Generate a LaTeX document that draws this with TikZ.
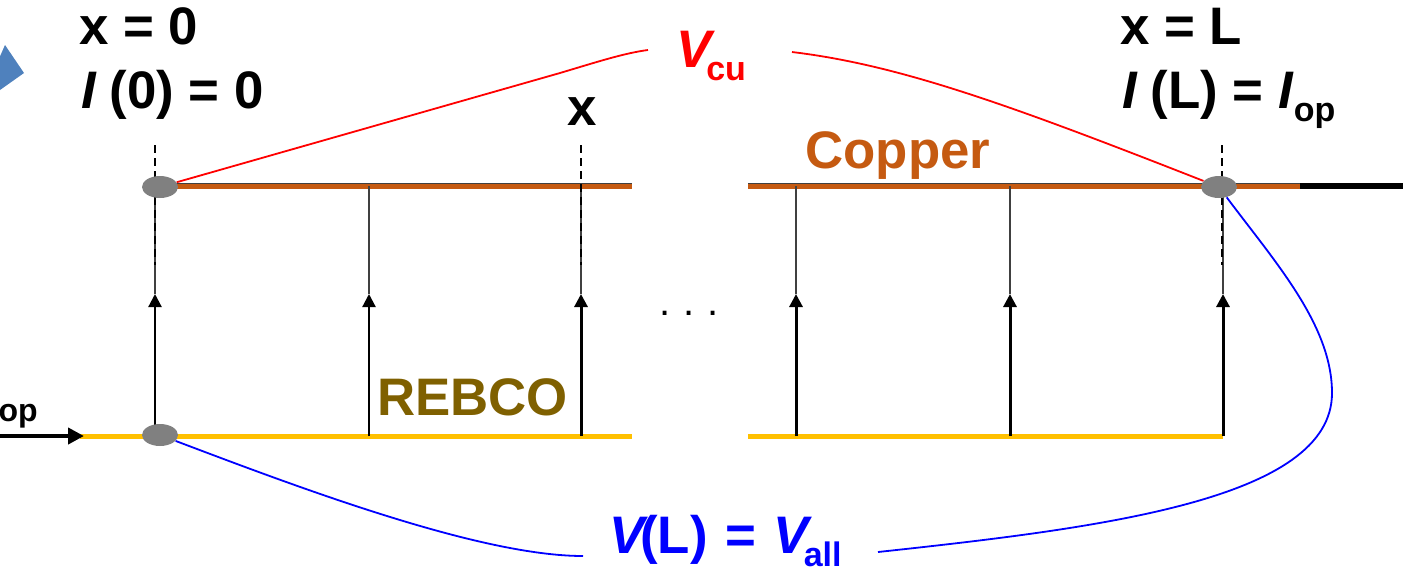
\documentclass[tikz,border=0pt]{standalone}
\usepackage{fontspec}
\setmainfont{Liberation Sans}
\usepackage{xcolor}
\definecolor{vizCopper}{HTML}{C55A11}
\definecolor{vizRebco}{HTML}{FFC000}
\definecolor{vizRebcoText}{HTML}{7F6000}
\definecolor{vizJoint}{HTML}{808080}
\definecolor{vizPointer}{HTML}{4F81BD}
\definecolor{vizEdge}{HTML}{404040}
\usetikzlibrary{shapes.geometric,arrows.meta}
\newcommand{\lowsub}[1]{\raisebox{-0.26em}{\fontsize{17}{17}\selectfont #1}}
\tikzset{
  label/.style={font=\fontsize{26.4}{26.4}\selectfont\bfseries, inner sep=0pt, anchor=base west},
  joint/.style={ellipse, fill=vizJoint, draw=none, minimum width=18pt, minimum height=11pt, inner sep=0pt},
  copperwire/.style={vizCopper, line width=2.5pt},
  rebcowire/.style={vizRebco, line width=2.5pt},
  feedup/.style={black, line width=1.1pt, -{Triangle[width=6.5pt,length=6.5pt]}},
  feedupheavy/.style={feedup, line width=1.5pt},
  feedtop/.style={vizEdge, line width=0.55pt},
  probe/.style={black, line width=0.7pt, dash pattern=on 4pt off 2.5pt},
  vcurve/.style={red, line width=0.9pt},
  vallcurve/.style={blue, line width=0.9pt}
}
\begin{document}
\begin{tikzpicture}[x=0.5pt, y=-0.5pt]
  \useasboundingbox (0,0) rectangle (1403,585);
  \fill[vizPointer] (5,45) -- (24,73) -- (0,90) -- (-6,70) -- cycle;
  \coordinate (cuA) at (159,186);
  \coordinate (cuB) at (632,186);
  \coordinate (cuC) at (748,186);
  \coordinate (cuD) at (1300,186);
  \coordinate (cuE) at (1403,186);
  \coordinate (reA) at (80,436);
  \coordinate (reB) at (632,436);
  \coordinate (reC) at (748,436);
  \coordinate (reD) at (1223,436);
  \coordinate (inA) at (0,436);
  \coordinate (inB) at (84,436);
  \coordinate (probeAt) at (155,145);
  \coordinate (probeAb) at (155,265);
  \coordinate (probeBt) at (581,145);
  \coordinate (probeBb) at (581,265);
  \coordinate (probeCt) at (1222,145);
  \coordinate (probeCb) at (1222,265);
  \draw[vizEdge, line width=0.6pt] (159,183.5) -- (632,183.5);
  \draw[vizEdge, line width=0.6pt] (748,183.5) -- (1300,183.5);
  \draw[copperwire] (cuA) -- (cuB);
  \draw[copperwire] (cuC) -- (cuD);
  \draw[black, line width=3pt] (cuD) -- (cuE);
  \draw[rebcowire] (reA) -- (reB);
  \draw[rebcowire] (reC) -- (reD);
  \draw[black, line width=2.4pt, -{Triangle[width=8pt,length=8pt]}] (inA) -- (inB);
  \coordinate (feedAb) at (155,436);
  \coordinate (feedAm) at (155,294);
  \coordinate (feedAt) at (155,186);
  \coordinate (feedBb) at (369,436);
  \coordinate (feedBm) at (369,294);
  \coordinate (feedBt) at (369,186);
  \coordinate (feedCb) at (581,436);
  \coordinate (feedCm) at (581,294);
  \coordinate (feedCt) at (581,186);
  \coordinate (feedDb) at (796,436);
  \coordinate (feedDm) at (796,294);
  \coordinate (feedDt) at (796,186);
  \coordinate (feedEb) at (1010,436);
  \coordinate (feedEm) at (1010,294);
  \coordinate (feedEt) at (1010,186);
  \coordinate (feedFb) at (1223,436);
  \coordinate (feedFm) at (1223,294);
  \coordinate (feedFt) at (1223,186);
  \draw[feedup] (feedAb) -- (feedAm);
  \draw[feedup] (feedBb) -- (feedBm);
  \draw[feedupheavy] (feedCb) -- (feedCm);
  \draw[feedupheavy] (feedDb) -- (feedDm);
  \draw[feedupheavy] (feedEb) -- (feedEm);
  \draw[feedupheavy] (feedFb) -- (feedFm);
  \draw[feedtop] (feedAm) -- (feedAt);
  \draw[feedtop] (feedBm) -- (feedBt);
  \draw[feedtop] (feedCm) -- (feedCt);
  \draw[feedtop] (feedDm) -- (feedDt);
  \draw[feedtop] (feedEm) -- (feedEt);
  \draw[feedtop] (feedFm) -- (feedFt);
  \draw[probe] (probeAt) -- (probeAb);
  \draw[probe] (probeBt) -- (probeBb);
  \draw[probe] (probeCt) -- (probeCb);
  \node[joint] (jointA) at (160,187) {};
  \node[joint] (jointB) at (160,435) {};
  \node[joint] (jointC) at (1219,187) {};
  \node[label] (xzero) at (79,44) {x = 0};
  \node[label] (izero) at (81,108) {\textit{I}\hspace{-1pt} (0) = 0};
  \node[label] (xmid) at (567,125) {x};
  \node[label] (xend) at (1120,44) {x = L};
  \node[label] (iend) at (1122,108) {\textit{I}\hspace{-1pt} (L) = \textit{I}\lowsub{op}};
  \node[label, text=vizCopper] (copper) at (805,168) {Copper};
  \node[label, text=vizRebcoText] (rebco) at (377,415) {REBCO};
  \node[label, font=\fontsize{16}{16}\selectfont\bfseries, anchor=base east] (iop) at (38,421) {op};
  \node[label, text=red] (vcu) at (676,67) {\textit{V}\hspace{-4.5pt}\lowsub{cu}};
  \node[label, text=blue] (vall) at (609,553) {\textit{V}\hspace{-4pt}(L)\hspace{1.5pt} = \hspace{1.5pt}\textit{V}\hspace{-4.5pt}\lowsub{all}};
  \node[inner sep=0pt, font=\fontsize{20}{20}\selectfont] (dots) at (689,313) {.\,\,.\,\,.};
  \coordinate (vcuL) at (648,50);
  \coordinate (vcuR) at (792,52);
  \coordinate (vallL) at (583,556);
  \coordinate (vallR) at (878,552);
  \draw[vcurve] (jointA) -- (560,73) .. controls (600,61) and (625,53) .. (vcuL);
  \draw[vcurve] (vcuR) .. controls (900,65) and (1010,105) .. (jointC);
  \draw[vallcurve] (jointB) .. controls (300,488) and (480,556) .. (vallL);
  \draw[vallcurve] (vallR) .. controls (1100,528) and (1332,500) .. (1332,393) .. controls (1332,325) and (1275,262) .. (jointC);
\end{tikzpicture}
\end{document}
